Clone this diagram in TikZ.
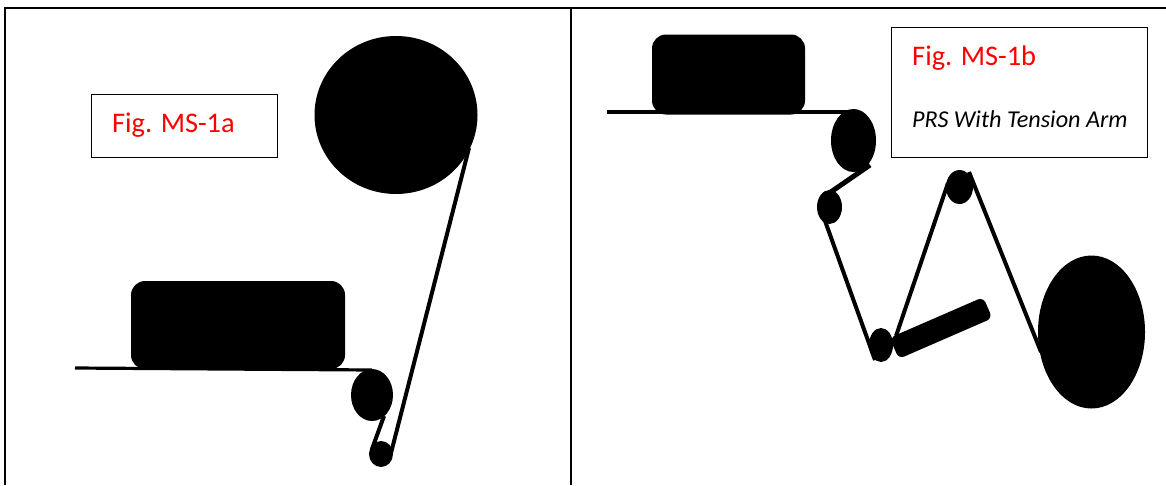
\documentclass[tikz,border=0pt]{standalone}
\usepackage{fontspec}
\setmainfont{Carlito}
\usetikzlibrary{shapes.geometric}
\tikzset{
  roller/.style={ellipse,fill=black,draw=none,inner sep=0pt,outer sep=0pt},
  platen/.style={rectangle,rounded corners=14pt,fill=black,draw=none,inner sep=0pt,outer sep=0pt},
  labelbox/.style={rectangle,draw=black,line width=0.9pt,fill=white,inner sep=0pt,outer sep=0pt},
  figtext/.style={text=red,font=\fontsize{28.4}{32}\selectfont,inner sep=0pt,anchor=base west},
  subtext/.style={text=black,font=\fontsize{24.2}{28}\selectfont\itshape,inner sep=0pt,anchor=base west},
  frameline/.style={line width=2.7pt,draw=black},
  web/.style={line width=3.2pt,draw=black},
  belt/.style={line width=4pt,draw=black},
  armbar/.style={rectangle,rounded corners=6pt,fill=black,draw=none,inner sep=0pt,outer sep=0pt}
}
\begin{document}
\begin{tikzpicture}[x=1pt,y=-1pt]
\useasboundingbox (0,0) rectangle (1166,485);
\fill[white] (0,0) rectangle (1166,485);
% frame
\coordinate (ftl) at (5,8); \coordinate (ftr) at (1166,8);
\coordinate (fbl) at (5,485); \coordinate (fmt) at (571,8); \coordinate (fmb) at (571,485);
\draw[frameline] (ftr) -- (ftl) -- (fbl);
\draw[frameline] (fmt) -- (fmb);
% left figure
\node[roller,minimum width=163pt,minimum height=158pt] (supply) at (396,115) {};
\node[platen,minimum width=214pt,minimum height=88pt] (platenA) at (238,325) {};
\node[roller,minimum width=42pt,minimum height=52pt] (rollA) at (372,395) {};
\node[roller,minimum width=24pt,minimum height=26pt] (idleA) at (381,454) {};
\coordinate (webAstart) at (75,368);
\coordinate (webAend) at (372,370);
\coordinate (beltA1) at (469,148);
\coordinate (beltA2) at (391,453);
\coordinate (beltA3) at (384,416);
\coordinate (beltA4) at (372,449);
\draw[web] (webAstart) -- (webAend);
\draw[belt] (beltA1) -- (beltA2);
\draw[belt] (beltA3) -- (beltA4);
\node[labelbox,minimum width=186pt,minimum height=63pt] (boxA) at (184,125.5) {};
\node[figtext] (figA) at (112,132) {Fig. MS-1a};
% right figure
\node[platen,minimum width=153pt,minimum height=80pt] (platenB) at (728.5,74.5) {};
\node[roller,minimum width=45pt,minimum height=63pt] (rollB) at (853.5,140.5) {};
\node[roller,minimum width=25pt,minimum height=34pt] (idleB) at (829.5,207) {};
\node[roller,minimum width=27pt,minimum height=34pt] (topB) at (959.5,187) {};
\node[roller,minimum width=24pt,minimum height=34pt] (armB) at (881,345) {};
\node[roller,minimum width=107pt,minimum height=153pt] (takeB) at (1091.5,332) {};
\coordinate (webBstart) at (607,112);
\coordinate (webBend) at (853,112);
\coordinate (b1) at (870,165);
\coordinate (b2) at (825,196);
\coordinate (b3) at (824,218);
\coordinate (b4) at (875,360);
\coordinate (b5) at (896,336);
\coordinate (b6) at (948,183);
\coordinate (b7) at (969,172);
\coordinate (b8) at (1041,352);
\draw[web] (webBstart) -- (webBend);
\draw[belt,line width=5pt] (b1) -- (b2);
\draw[belt] (b3) -- (b4);
\draw[belt] (b5) -- (b6);
\draw[belt] (b7) -- (b8);
\node[armbar,minimum width=102pt,minimum height=23pt,rotate=23.5] (arm) at (941,328) {};
\node[labelbox,minimum width=256pt,minimum height=130pt] (boxB) at (1019,92) {};
\node[figtext] (figB) at (912,65) {Fig. MS-1b};
\node[subtext] (subB) at (912,127.5) {PRS With Tension Arm};
\end{tikzpicture}
\end{document}
